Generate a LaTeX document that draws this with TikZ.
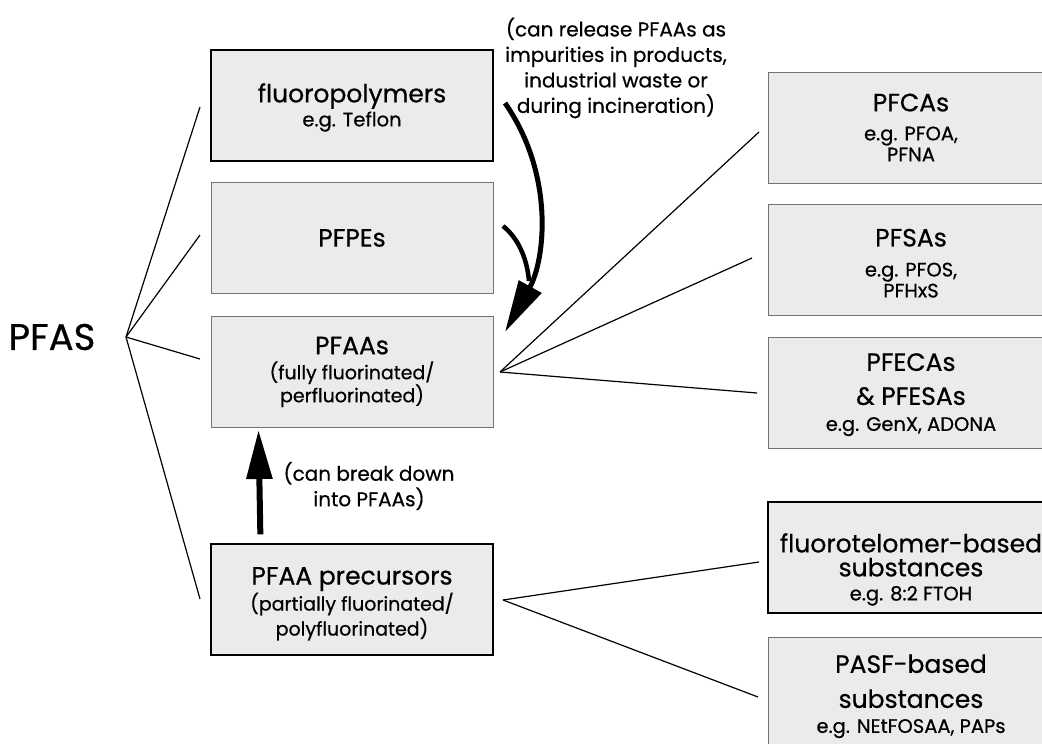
\documentclass[tikz,border=0pt]{standalone}
\usepackage{fontspec}
\setmainfont{Poppins}[FakeBold=0.6]
\usetikzlibrary{arrows.meta}
\newcommand\mainlbl[1]{{\fontsize{25}{30}\selectfont #1}}
\newcommand\sublbl[1]{{\fontsize{19.5}{30}\selectfont #1}}
\newcommand\midlbl[1]{{\fontsize{19}{30}\selectfont #1}}
\newcommand\topstrut[1]{\rule{0pt}{#1}}
\begin{document}
\begin{tikzpicture}[x=1pt,y=-1pt,
  box/.style={draw=black!55, line width=1pt, fill=black!8, minimum width=282pt,
    minimum height=111pt, align=center, inner sep=0pt, font=\fontsize{14}{30}\selectfont},
  rbox/.style={box, minimum width=286pt},
  strong/.style={draw=black, line width=1.3pt},
  conn/.style={line width=1.2pt},
  note/.style={align=center, font=\fontsize{20}{25.5}\selectfont, inner sep=0pt},
  bigarrow/.style={line width=5pt, -{Triangle[width=25pt,length=52pt]}}
]
\useasboundingbox (0,0) rectangle (1042,744);
\clip (0,0) rectangle (1042,744);

% left column
\node[box, strong] (fluoro) at (352,105.5) {\mainlbl{\topstrut{23pt}fluoropolymers}\\[-6pt]\sublbl{e.g. Teflon}};
\node[box] (pfpe) at (352,238) {\mainlbl{PFPEs}};
\node[box] (pfaa) at (352,372) {\mainlbl{PFAAs}\\[-5pt]\midlbl{(fully fluorinated/}\\[-7pt]\midlbl{perfluorinated)}};
\node[box, strong] (prec) at (352,599.5) {\mainlbl{\topstrut{26pt}PFAA precursors}\\[-4pt]\midlbl{(partially fluorinated/}\\[-5pt]\midlbl{polyfluorinated)}};

% right column
\node[rbox] (pfca) at (911,127.5) {\mainlbl{PFCAs}\\[-1pt]\sublbl{e.g. PFOA,}\\[-9pt]\sublbl{PFNA}};
\node[rbox] (pfsa) at (911,260) {\mainlbl{\topstrut{24pt}PFSAs}\\[0pt]\sublbl{e.g. PFOS,}\\[-9pt]\sublbl{PFHxS}};
\node[rbox] (pfeca) at (911,393) {\mainlbl{\topstrut{21pt}PFECAs}\\[4pt]\mainlbl{\& PFESAs}\\[-4pt]\sublbl{e.g. GenX, ADONA}};
\node[rbox, strong] (ftel) at (911,557.5) {\mainlbl{\topstrut{43pt}fluorotelomer-based}\\[-6pt]\mainlbl{substances}\\[-6pt]\sublbl{e.g. 8:2 FTOH}};
\node[rbox] (pasf) at (911,693) {\mainlbl{\topstrut{25pt}PASF-based}\\[5pt]\mainlbl{substances}\\[-5pt]\sublbl{e.g. NEtFOSAA, PAPs}};

% root
\node[font=\fontsize{37}{40}\selectfont, inner sep=0pt] (pfas) at (52,337) {PFAS};

% fan coordinates
\coordinate (o1) at (126,337);
\coordinate (a1) at (200,107);
\coordinate (a2) at (200,235);
\coordinate (a3) at (200,359);
\coordinate (a4) at (200,599);
\coordinate (o2) at (500,372);
\coordinate (b1) at (759,132);
\coordinate (b2) at (752,258);
\coordinate (b3) at (757,393);
\coordinate (o3) at (503,600);
\coordinate (c1) at (759,562);
\coordinate (c2) at (758,697);

\foreach \t in {a1,a2,a3,a4} \draw[conn] (o1) -- (\t);
\foreach \t in {b1,b2,b3} \draw[conn] (o2) -- (\t);
\foreach \t in {c1,c2} \draw[conn] (o3) -- (\t);

% notes
\node[note] (relnote) at (616,68) {(can release PFAAs as\\impurities in products,\\industrial waste or\\during incineration)};
\node[note] (brknote) at (369,486) {(can break down\\into PFAAs)};

% curved arrows into PFAAs
\coordinate (relstart) at (505,103);
\coordinate (pfpestart) at (503,226);
\coordinate (reltip) at (505,332);
\coordinate (merge) at (529,281);
\draw[bigarrow] (relstart) .. controls (555,175) and (545,260) .. (reltip);
\draw[line width=4.5pt] (pfpestart) .. controls (518,238) and (527,258) .. (merge);

% break-down arrow
\draw[bigarrow, line width=6pt, -{Triangle[width=25pt,length=49pt]}]
  ([xshift=50pt,yshift=9pt]prec.north west) -- ([xshift=48pt,yshift=-2pt]pfaa.south west);
\end{tikzpicture}
\end{document}
